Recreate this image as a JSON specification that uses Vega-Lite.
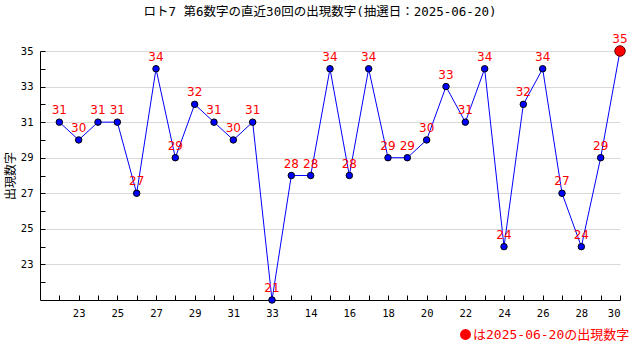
{
  "$schema": "https://vega.github.io/schema/vega-lite/v6.json",
  "autosize": "none",
  "width": 580,
  "height": 249,
  "padding": {"left": 40, "top": 51, "right": 20, "bottom": 60},
  "background": "white",
  "title": {
    "text": "ロト7 第6数字の直近30回の出現数字(抽選日：2025-06-20)",
    "anchor": "middle",
    "frame": "group",
    "offset": 15,
    "dx": -10,
    "font": "DejaVu Sans Mono, Noto Sans CJK JP",
    "fontSize": 12.5,
    "fontWeight": "normal",
    "color": "black"
  },
  "config": {"view": {"stroke": null}},
  "data": {
    "values": [
      {"i": 1, "v": 31}, {"i": 2, "v": 30}, {"i": 3, "v": 31}, {"i": 4, "v": 31},
      {"i": 5, "v": 27}, {"i": 6, "v": 34}, {"i": 7, "v": 29}, {"i": 8, "v": 32},
      {"i": 9, "v": 31}, {"i": 10, "v": 30}, {"i": 11, "v": 31}, {"i": 12, "v": 21},
      {"i": 13, "v": 28}, {"i": 14, "v": 28}, {"i": 15, "v": 34}, {"i": 16, "v": 28},
      {"i": 17, "v": 34}, {"i": 18, "v": 29}, {"i": 19, "v": 29}, {"i": 20, "v": 30},
      {"i": 21, "v": 33}, {"i": 22, "v": 31}, {"i": 23, "v": 34}, {"i": 24, "v": 24},
      {"i": 25, "v": 32}, {"i": 26, "v": 34}, {"i": 27, "v": 27}, {"i": 28, "v": 24},
      {"i": 29, "v": 29}, {"i": 30, "v": 35}
    ]
  },
  "encoding": {
    "x": {
      "field": "i",
      "type": "quantitative",
      "scale": {"domain": [0, 30], "nice": false, "zero": false},
      "axis": {
        "title": null,
        "values": [1,2,3,4,5,6,7,8,9,10,11,12,13,14,15,16,17,18,19,20,21,22,23,24,25,26,27,28,29,30],
        "labelExpr": "['','22','23','24','25','26','27','28','29','30','31','32','33','13','14','15','16','17','18','19','20','21','22','23','24','25','26','27','28','29','30'][datum.value]",
        "labelOverlap": false,
        "labelFont": "DejaVu Sans Mono",
        "labelFontSize": 10.5,
        "labelColor": "black",
        "labelOpacity": {"condition": {"test": "datum.value % 2 == 1", "value": 0}, "value": 1},
        "tickSize": -5,
        "tickColor": "black",
        "labelPadding": 13,
        "domainColor": "black",
        "grid": false
      }
    },
    "y": {
      "field": "v",
      "type": "quantitative",
      "scale": {"domain": [21, 35], "nice": false, "zero": false},
      "axis": {
        "title": "出現数字",
        "titleFont": "Noto Sans CJK JP",
        "titleFontSize": 12,
        "titleFontWeight": "normal",
        "titleColor": "black",
        "titlePadding": 3,
        "values": [22,23,24,25,26,27,28,29,30,31,32,33,34,35],
        "labelOverlap": false,
        "labelFont": "DejaVu Sans Mono",
        "labelFontSize": 10.5,
        "labelColor": "black",
        "labelOpacity": {"condition": {"test": "datum.value % 2 == 0", "value": 0}, "value": 1},
        "tickSize": -5,
        "tickColor": "black",
        "labelPadding": 12,
        "domainColor": "black",
        "grid": true,
        "gridColor": "#d9d9d9",
        "gridOpacity": {"condition": {"test": "datum.value % 2 == 0", "value": 0}, "value": 1}
      }
    }
  },
  "layer": [
    {"mark": {"type": "line", "color": "#0000ff", "strokeWidth": 1}},
    {
      "transform": [{"filter": "datum.i < 30"}],
      "mark": {"type": "point", "shape": "circle", "filled": true, "fill": "#0000ff", "stroke": "black", "strokeWidth": 1, "size": 42, "opacity": 1}
    },
    {
      "transform": [{"filter": "datum.i == 30"}],
      "mark": {"type": "point", "shape": "circle", "filled": true, "stroke": "#600000", "strokeWidth": 1, "size": 110, "opacity": 1},
      "encoding": {
        "color": {
          "datum": "は2025-06-20の出現数字",
          "scale": {"range": ["#ff0000"]},
          "legend": {
            "orient": "none",
            "legendX": 419,
            "legendY": 277,
            "title": null,
            "labelColor": "#ff0000",
            "labelFont": "DejaVu Sans Mono, Noto Sans CJK JP",
            "labelFontSize": 13,
            "labelOffset": 1,
            "symbolType": "circle",
            "symbolSize": 120,
            "symbolStrokeWidth": 0,
            "symbolOpacity": 1
          }
        }
      }
    },
    {
      "mark": {"type": "text", "color": "#ff0000", "baseline": "bottom", "dy": -5, "font": "DejaVu Sans", "fontSize": 12},
      "encoding": {"text": {"field": "v", "type": "quantitative"}}
    }
  ]
}
